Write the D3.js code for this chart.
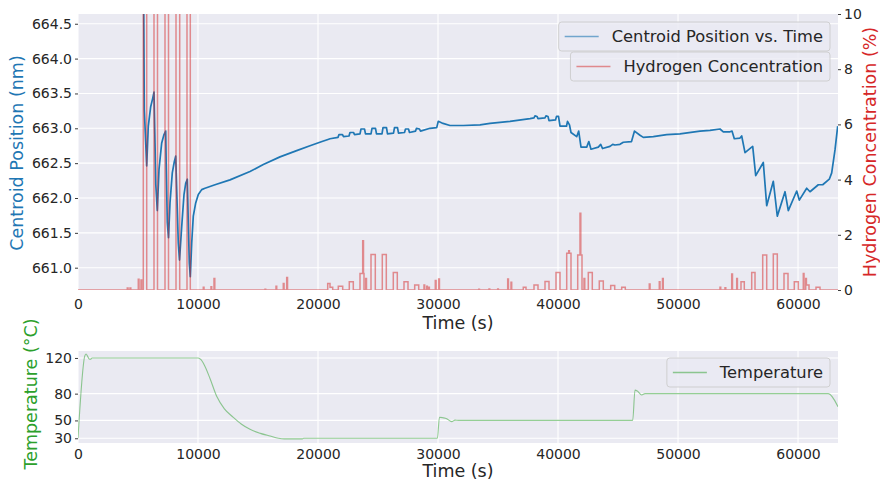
<!DOCTYPE html>
<html>
<head>
<meta charset="utf-8">
<script src="https://cdn.jsdelivr.net/npm/d3@7"></script>
<style>
  html, body { margin: 0; padding: 0; background: #ffffff; }
  svg { display: block; font-family: "DejaVu Sans", sans-serif; }
</style>
</head>
<body>
<svg id="chart" width="880" height="484"></svg>
<script>
// ---- Centroid position of the plasmon peak (nm) vs. time (s) ----
const centroidTime = [
  5420, 5525, 5725, 5858, 6058, 6225, 6333, 6417, 6483, 6608,
  6750, 6975, 7167, 7308, 7358, 7442, 7542, 7667, 7858, 8025,
  8142, 8275, 8358, 8458, 8642, 8833, 8975, 9108, 9192, 9275,
  9358, 9475, 9608, 9808, 10025, 10308, 10583, 11417, 12667, 14333,
  15442, 16833, 18225, 19333, 20333, 20833, 21000, 21667, 21750, 22042,
  22125, 22583, 22667, 22958, 23042, 23500, 23583, 23875, 23958, 24417,
  24500, 24792, 24875, 25333, 25417, 25708, 25792, 26292, 26375, 26625,
  26708, 27208, 27292, 27542, 27625, 28125, 28208, 28458, 28542, 29333,
  29892, 30025, 30417, 31000, 32108, 33500, 34333, 36000, 37667, 38000,
  38083, 38250, 38333, 38917, 39000, 39167, 39250, 39792, 39875, 40042,
  40167, 40708, 40792, 40958, 41083, 41558, 41725, 41917, 42392, 42567,
  42750, 43358, 43558, 43708, 44333, 44558, 44750, 45167, 45442, 46125,
  46375, 46833, 47108, 47942, 49058, 50167, 51833, 52667, 53500, 53775,
  54333, 54500, 54692, 55167, 55308, 55583, 56142, 56225, 56475, 57108,
  57392, 57942, 58275, 58917, 59192, 59892, 60108, 60725, 61000, 61692,
  62058, 62608, 62808, 63083, 63308
];
const centroidNm = [
  666.50, 663.27, 662.46, 663.03, 663.31, 663.43, 663.52, 662.79, 662.19, 661.82,
  662.41, 662.79, 662.91, 662.96, 662.41, 661.65, 661.43, 661.93, 662.36, 662.52,
  662.60, 661.83, 661.35, 661.11, 661.59, 662.05, 662.21, 662.27, 661.64, 661.07,
  660.87, 661.35, 661.74, 661.93, 662.05, 662.12, 662.14, 662.19, 662.26, 662.38,
  662.48, 662.59, 662.68, 662.75, 662.81, 662.84, 662.85, 662.87, 662.91, 662.91,
  662.88, 662.89, 662.94, 662.94, 662.91, 662.92, 662.99, 662.99, 662.92, 662.92,
  663.00, 663.00, 662.92, 662.92, 663.01, 663.01, 662.92, 662.93, 663.01, 663.01,
  662.93, 662.94, 662.99, 662.99, 662.94, 662.96, 663.00, 662.99, 662.96, 663.00,
  663.01, 663.10, 663.07, 663.04, 663.04, 663.05, 663.07, 663.10, 663.14, 663.15,
  663.18, 663.17, 663.14, 663.15, 663.18, 663.17, 663.11, 663.12, 663.17, 663.17,
  663.03, 663.03, 663.10, 663.05, 662.94, 662.88, 662.96, 662.73, 662.73, 662.81,
  662.70, 662.73, 662.77, 662.71, 662.74, 662.77, 662.76, 662.77, 662.80, 662.81,
  662.96, 662.90, 662.87, 662.88, 662.91, 662.92, 662.96, 662.97, 662.99, 662.95,
  662.95, 662.96, 662.85, 662.86, 662.89, 662.65, 662.73, 662.74, 662.32, 662.51,
  661.89, 662.24, 661.74, 662.09, 661.82, 662.10, 661.97, 662.14, 662.09, 662.19,
  662.19, 662.27, 662.36, 662.69, 663.03
];

// ---- Hydrogen concentration (%) : gas pulses as start / end / level ----
const pulseStart = [
  4108, 4333, 5025, 5250,
  5442, 6333, 7250, 8167, 9083,
  10442, 11083, 11333, 15583, 16500, 17108, 17392,
  20808, 21000, 21692, 22608, 23500, 23725, 23975,
  24417, 25358, 26275, 27167, 28058,
  28833, 29058, 29225, 29775, 30058,
  33392, 34250, 34975, 35808, 36083,
  37108, 38000, 38917, 39833, 40725, 40892,
  41642, 41833, 42167, 42525, 43442, 44392, 45308,
  47608, 48442, 48708, 53500, 53917, 54475, 54892,
  55250, 56142, 57058, 57942, 58833, 59692,
  60442, 60642, 60700, 61500
];
const pulseEnd = [
  4170, 4400, 5085, 5310,
  5725, 6625, 7542, 8475, 9358,
  10500, 11140, 11400, 15640, 16560, 17170, 17460,
  21000, 21225, 22058, 22942, 23833, 23790, 24040,
  24775, 25692, 26608, 27500, 28392,
  28890, 29110, 29280, 29840, 30120,
  33450, 34310, 35030, 35870, 36140,
  37333, 38333, 39250, 40167, 41083, 40950,
  42000, 41900, 42230, 42858, 43775, 44725, 45608,
  47670, 48500, 48770, 53560, 53980, 54540, 54950,
  55525, 56417, 57392, 58275, 59167, 60025,
  60500, 60700, 60917, 61833
];
const pulseLevel = [
  0.07, 0.07, 0.39, 0.36,
  100, 100, 100, 100, 100,
  0.10, 0.12, 0.42, 0.03, 0.14, 0.24, 0.45,
  0.24, 0.10, 0.14, 0.30, 0.60, 1.78, 0.42,
  1.29, 1.29, 0.63, 0.30, 0.18,
  0.18, 0.14, 0.10, 0.34, 0.40,
  0.03, 0.04, 0.04, 0.40, 0.28,
  0.10, 0.18, 0.31, 0.63, 1.33, 1.42,
  1.27, 2.78, 0.42, 0.63, 0.33, 0.16, 0.10,
  0.22, 0.30, 0.42, 0.10, 0.08, 0.58, 0.42,
  0.30, 0.63, 1.27, 1.30, 0.60, 0.30,
  0.60, 0.42, 0.18, 0.10
];

// ---- Cell temperature (°C) ----
const tempTime = [
  0, 560, 667, 800, 917, 1042, 1167, 10025, 10250, 10450,
  11000, 11558, 12200, 12942, 13600, 14333, 15200, 16000, 16700, 17200,
  18700, 18800, 29950, 30120, 30400, 30725, 31142, 31417, 31700, 46225,
  46417, 46608, 46975, 47250, 62525, 63333
];
const tempC = [
  30, 122, 124.5, 122, 119, 118.5, 120, 120, 118, 114,
  97, 77, 63, 53.5, 46, 40, 35.5, 32.5, 30, 29.3,
  29.3, 30, 30, 53.5, 53, 52, 48.6, 50.3, 50, 50,
  84, 83, 78.5, 80, 80, 65.4
];

// ---- Axis ticks ----
const timeTicks = [0, 10000, 20000, 30000, 40000, 50000, 60000];
const centroidTicks = [661.0, 661.5, 662.0, 662.5, 663.0, 663.5, 664.0, 664.5];
const hydrogenTicks = [0, 2, 4, 6, 8, 10];
const tempTicks = [30, 50, 80, 120];

// ---- Layout ----
const svg = d3.select("#chart");
const upper = { left: 78, right: 838, top: 14, bottom: 290 };
const lower = { left: 78, right: 838, top: 351, bottom: 443 };

const BLUE = "#1f77b4", RED = "#d62728", GREEN = "#2ca02c";
const TXT = "#262626", BG = "#eaeaf2";

const x = d3.scaleLinear().domain([0, 63333]).range([upper.left, upper.right]);
const yC = d3.scaleLinear().domain([660.68, 664.64]).range([upper.bottom, upper.top]);
const yH = d3.scaleLinear().domain([0, 10]).range([upper.bottom, upper.top]);
const yT = d3.scaleLinear().domain([24.7, 127.8]).range([lower.bottom, lower.top]);

// hydrogen step series built from the pulses (highest active pulse wins)
const breaks = Array.from(new Set([0, 63333].concat(pulseStart, pulseEnd))).sort((a, b) => a - b);
const hydrogen = breaks.map(t => {
  let v = 0;
  for (let i = 0; i < pulseStart.length; i++) {
    if (t >= pulseStart[i] && t < pulseEnd[i]) v = Math.max(v, pulseLevel[i]);
  }
  return [t, v];
});
const centroid = centroidTime.map((t, i) => [t, centroidNm[i]]);
const temperature = tempTime.map((t, i) => [t, tempC[i]]);

const defs = svg.append("defs");
function clip(id, p) {
  defs.append("clipPath").attr("id", id).append("rect")
    .attr("x", p.left).attr("y", p.top)
    .attr("width", p.right - p.left).attr("height", p.bottom - p.top);
}
clip("clipUpper", upper);
clip("clipLower", lower);

function panel(p, yScale, yTicks) {
  svg.append("rect").attr("x", p.left).attr("y", p.top)
    .attr("width", p.right - p.left).attr("height", p.bottom - p.top).attr("fill", BG);
  const g = svg.append("g");
  g.selectAll(".vg").data(timeTicks).join("line")
    .attr("x1", d => x(d)).attr("x2", d => x(d))
    .attr("y1", p.top).attr("y2", p.bottom)
    .attr("stroke", "#ffffff").attr("stroke-width", 1.1);
  g.selectAll(".hg").data(yTicks).join("line")
    .attr("x1", p.left).attr("x2", p.right)
    .attr("y1", d => yScale(d)).attr("y2", d => yScale(d))
    .attr("stroke", "#ffffff").attr("stroke-width", 1.1);
}

function styleAxis(g, size) {
  g.select(".domain").remove();
  g.selectAll(".tick line").attr("stroke", TXT).attr("stroke-width", 0.9);
  g.selectAll(".tick text").attr("fill", TXT)
    .style("font-family", "DejaVu Sans").style("font-size", size + "px");
}

// ===== Upper panel: centroid + hydrogen =====
panel(upper, yC, centroidTicks);

const gx1 = svg.append("g").attr("transform", `translate(0,${upper.bottom})`)
  .call(d3.axisBottom(x).tickValues(timeTicks).tickFormat(d3.format("d")).tickSize(0).tickPadding(9.5));
styleAxis(gx1, 14);

const gyL = svg.append("g").attr("transform", `translate(${upper.left},0)`)
  .call(d3.axisLeft(yC).tickValues(centroidTicks).tickFormat(d3.format(".1f")).tickSize(3).tickPadding(3));
styleAxis(gyL, 14);

const gyR = svg.append("g").attr("transform", `translate(${upper.right},0)`)
  .call(d3.axisRight(yH).tickValues(hydrogenTicks).tickFormat(d3.format("d")).tickSize(3).tickPadding(3));
styleAxis(gyR, 14);

svg.append("path").datum(centroid)
  .attr("clip-path", "url(#clipUpper)")
  .attr("d", d3.line().x(d => x(d[0])).y(d => yC(d[1])))
  .attr("fill", "none").attr("stroke", BLUE).attr("stroke-width", 1.7)
  .attr("stroke-linejoin", "round");

svg.append("path").datum(hydrogen)
  .attr("clip-path", "url(#clipUpper)")
  .attr("d", d3.line().curve(d3.curveStepAfter).x(d => x(d[0])).y(d => yH(d[1])))
  .attr("fill", "none").attr("stroke", RED).attr("stroke-width", 1.5)
  .attr("stroke-opacity", 0.5);

svg.append("text").attr("x", (upper.left + upper.right) / 2).attr("y", 329)
  .attr("text-anchor", "middle").attr("fill", TXT)
  .style("font-size", "17.5px").text("Time (s)");
svg.append("text").attr("transform", "translate(23,153) rotate(-90)")
  .attr("text-anchor", "middle").attr("fill", BLUE)
  .style("font-size", "17.5px").text("Centroid Position (nm)");
svg.append("text").attr("transform", "translate(876,152) rotate(-90)")
  .attr("text-anchor", "middle").attr("fill", RED)
  .style("font-size", "17.5px").text("Hydrogen Concentration (%)");

// ===== Lower panel: temperature =====
panel(lower, yT, tempTicks);

const gx2 = svg.append("g").attr("transform", `translate(0,${lower.bottom})`)
  .call(d3.axisBottom(x).tickValues(timeTicks).tickFormat(d3.format("d")).tickSize(0).tickPadding(6));
styleAxis(gx2, 14);

const gyT = svg.append("g").attr("transform", `translate(${lower.left},0)`)
  .call(d3.axisLeft(yT).tickValues(tempTicks).tickFormat(d3.format("d")).tickSize(3).tickPadding(3));
styleAxis(gyT, 14);

svg.append("path").datum(temperature)
  .attr("clip-path", "url(#clipLower)")
  .attr("d", d3.line().curve(d3.curveMonotoneX).x(d => x(d[0])).y(d => yT(d[1])))
  .attr("fill", "none").attr("stroke", GREEN).attr("stroke-width", 1.1)
  .attr("stroke-opacity", 0.5);

svg.append("text").attr("x", (lower.left + lower.right) / 2).attr("y", 477)
  .attr("text-anchor", "middle").attr("fill", TXT)
  .style("font-size", "17.5px").text("Time (s)");
svg.append("text").attr("transform", "translate(37,394) rotate(-90)")
  .attr("text-anchor", "middle").attr("fill", GREEN)
  .style("font-size", "17.5px").text("Temperature (°C)");

// ===== Legends =====
function legend(label, color, opacity, yTop, yBottom) {
  const g = svg.append("g");
  const frame = g.append("rect");
  const text = g.append("text").attr("fill", TXT).style("font-size", "16.3px")
    .attr("y", (yTop + yBottom) / 2 + 5.7).text(label);
  const w = text.node().getComputedTextLength();
  const textEnd = 823;
  const textStart = textEnd - w;
  text.attr("x", textStart);
  const sampleEnd = textStart - 13, sampleStart = sampleEnd - 34;
  g.append("line").attr("x1", sampleStart).attr("x2", sampleEnd)
    .attr("y1", (yTop + yBottom) / 2).attr("y2", (yTop + yBottom) / 2)
    .attr("stroke", color).attr("stroke-opacity", opacity).attr("stroke-width", 1.5);
  frame.attr("x", sampleStart - 6).attr("y", yTop)
    .attr("width", 830 - (sampleStart - 6)).attr("height", yBottom - yTop)
    .attr("rx", 3).attr("fill", BG).attr("fill-opacity", 0.8)
    .attr("stroke", "#cccccc").attr("stroke-width", 0.9);
}
legend("Centroid Position vs. Time", BLUE, 0.6, 22, 51);
legend("Hydrogen Concentration", RED, 0.5, 52, 81);
legend("Temperature", GREEN, 0.5, 358, 387);
</script>
</body>
</html>
